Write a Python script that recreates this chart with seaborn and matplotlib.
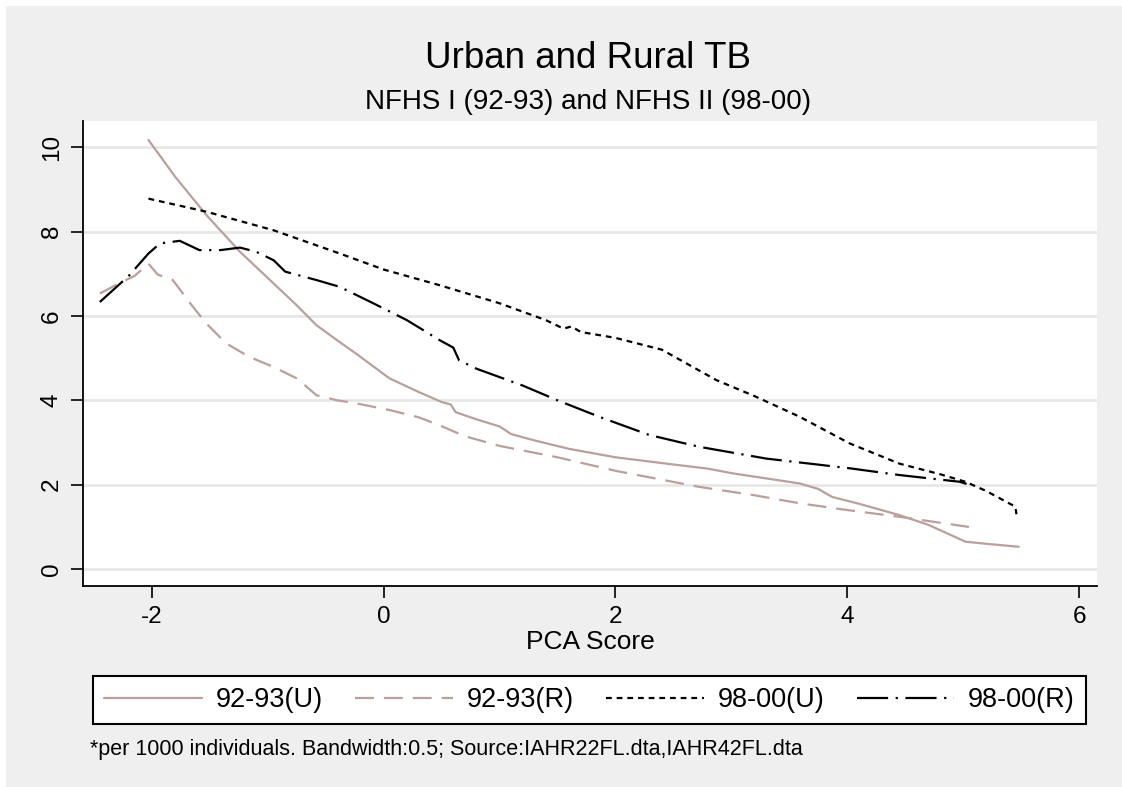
import numpy as np
import matplotlib.pyplot as plt
import matplotlib.patches as mpatches
import pandas as pd
import seaborn as sns

# values (PCA score vs TB per 1000)
u9293_x = [-2.03, -1.8, -1.53, -1.24, -0.95, -0.75, -0.58, -0.4, -0.24, 0.05, 0.3, 0.5, 0.58, 0.62,
           0.8, 1.0, 1.1, 1.3, 1.6, 2.0, 2.44, 2.8, 3.01, 3.3, 3.59, 3.75, 3.87, 4.1, 4.45, 4.7,
           5.02, 5.2, 5.48]
u9293_y = [10.17, 9.3, 8.39, 7.52, 6.77, 6.25, 5.78, 5.42, 5.11, 4.52, 4.2, 3.96, 3.9, 3.72,
           3.55, 3.38, 3.2, 3.05, 2.85, 2.65, 2.5, 2.38, 2.27, 2.15, 2.03, 1.9, 1.71, 1.55, 1.28, 1.05,
           0.65, 0.6, 0.53]

r9293_x = [-2.45, -2.3, -2.15, -2.03, -1.95, -1.82, -1.67, -1.53, -1.36, -1.16, -0.95, -0.75, -0.58,
           -0.4, -0.24, 0.05, 0.3, 0.48, 0.7, 1.0, 1.5, 2.0, 2.72, 3.2, 3.59, 4.0, 4.45, 4.8, 5.05]
r9293_y = [6.53, 6.75, 6.95, 7.24, 6.98, 6.85, 6.30, 5.82, 5.35, 5.03, 4.79, 4.52, 4.12,
           4.0, 3.93, 3.77, 3.6, 3.41, 3.15, 2.92, 2.65, 2.33, 1.95, 1.75, 1.56, 1.4, 1.24, 1.1, 1.0]

u9800_x = [-2.03, -1.53, -0.95, -0.38, 0.0, 0.48, 1.0, 1.4, 1.55, 1.62, 1.7, 2.0, 2.4, 2.87, 3.2,
           3.59, 4.02, 4.45, 4.8, 5.02, 5.2, 5.45, 5.46]
u9800_y = [8.78, 8.47, 8.03, 7.48, 7.1, 6.73, 6.3, 5.9, 5.7, 5.75, 5.62, 5.48, 5.2, 4.48, 4.1,
           3.61, 2.98, 2.5, 2.25, 2.07, 1.85, 1.48, 1.3]

r9800_x = [-2.45, -2.2, -2.03, -1.93, -1.76, -1.59, -1.41, -1.24, -1.1, -0.95, -0.85, -0.58, -0.38,
           -0.09, 0.2, 0.48, 0.6, 0.65, 0.8, 1.0, 1.2, 1.5, 1.86, 2.29, 2.72, 3.3, 4.02, 4.45, 4.97, 5.03]
r9800_y = [6.33, 6.95, 7.48, 7.72, 7.78, 7.56, 7.56, 7.62, 7.52, 7.32, 7.05, 6.85, 6.69,
           6.30, 5.90, 5.43, 5.25, 4.95, 4.75, 4.55, 4.35, 4.0, 3.61, 3.18, 2.90, 2.62, 2.39, 2.23, 2.07, 2.02]

labels = ["92-93(U)", "92-93(R)", "98-00(U)", "98-00(R)"]
xticks = [-2, 0, 2, 4, 6]
yticks = [0, 2, 4, 6, 8, 10]

df = pd.concat([
    pd.DataFrame({"pca": u9293_x, "tb": u9293_y, "series": labels[0]}),
    pd.DataFrame({"pca": r9293_x, "tb": r9293_y, "series": labels[1]}),
    pd.DataFrame({"pca": u9800_x, "tb": u9800_y, "series": labels[2]}),
    pd.DataFrame({"pca": r9800_x, "tb": r9800_y, "series": labels[3]}),
])

tan = "#baa09b"
colors = {labels[0]: tan, labels[1]: tan, labels[2]: "black", labels[3]: "black"}
styles = {labels[0]: "-",
          labels[1]: (0, (8.5, 4.5)),
          labels[2]: (0, (2.6, 2.2)),
          labels[3]: (0, (14, 3.4, 1, 3.4))}

sns.set_theme(style="white")
plt.rcParams["font.family"] = ["Liberation Sans", "DejaVu Sans"]
plt.rcParams["axes.unicode_minus"] = False
plt.rcParams["text.color"] = "black"
plt.rcParams["axes.labelcolor"] = "black"

W, H = 1122, 787
fig = plt.figure(figsize=(W / 100, H / 100), dpi=100, facecolor="#efefef")
# white page strips on the top and left edges
fig.patches.append(mpatches.Rectangle((0, 1 - 6 / H), 1, 6 / H, transform=fig.transFigure,
                                      facecolor="white", edgecolor="none", zorder=-10))
fig.patches.append(mpatches.Rectangle((0, 0), 6 / W, 1, transform=fig.transFigure,
                                      facecolor="white", edgecolor="none", zorder=-10))

ax = fig.add_axes([83 / W, (H - 586) / H, (1097 - 83) / W, (586 - 121) / H])
ax.set_facecolor("white")

for s in labels:
    sub = df[df["series"] == s]
    sns.lineplot(data=sub, x="pca", y="tb", color=colors[s], linestyle=styles[s], linewidth=1.6,
                 label=s, ax=ax, legend=False)

ax.set_xlim(-2.595, 6.155)
ax.set_ylim(-0.40, 10.62)
ax.set_xticks(xticks)
ax.set_yticks(yticks)
ax.set_yticklabels([str(v) for v in yticks], rotation=90, va="center")
ax.grid(axis="y", color="#e6e6e6", linewidth=1.9)
ax.grid(axis="x", visible=False)
for side in ["top", "right"]:
    ax.spines[side].set_visible(False)
for side in ["left", "bottom"]:
    ax.spines[side].set_color("black")
    ax.spines[side].set_linewidth(1.3)
ax.tick_params(axis="both", direction="out", length=8.5, width=1.2, color="black",
               labelsize=17.5, labelcolor="black", pad=6, left=True, bottom=True)

ax.set_xlabel("PCA Score", fontsize=19, color="black")
ax.xaxis.set_label_coords(0.5, -0.095)
ax.set_ylabel("")

fig.text(588 / W, 1 - 68 / H, "Urban and Rural TB", fontsize=26.5, ha="center", va="baseline",
         color="black")
fig.text(588 / W, 1 - 109 / H, "NFHS I (92-93) and NFHS II (98-00)", fontsize=20, ha="center",
         va="baseline", color="black")

handles = ax.get_lines()[:4]
fig.legend(handles, labels, loc="center", ncol=4, mode="expand",
           bbox_to_anchor=(93 / W, 1 - 725 / H, (1086 - 93) / W, 50 / H),
           fontsize=19.5, handlelength=3.6, handletextpad=0.5, columnspacing=1.0,
           borderpad=0.42, borderaxespad=0, frameon=True, fancybox=False,
           edgecolor="black", facecolor="white", framealpha=1, labelcolor="black")
leg = fig.legends[0]
leg.get_frame().set_linewidth(1.5)

fig.text(90 / W, 1 - 755 / H,
         "*per 1000 individuals. Bandwidth:0.5; Source:IAHR22FL.dta,IAHR42FL.dta",
         fontsize=15.5, ha="left", va="baseline", color="black")

fig.savefig("out.png", dpi=100, facecolor=fig.get_facecolor())
